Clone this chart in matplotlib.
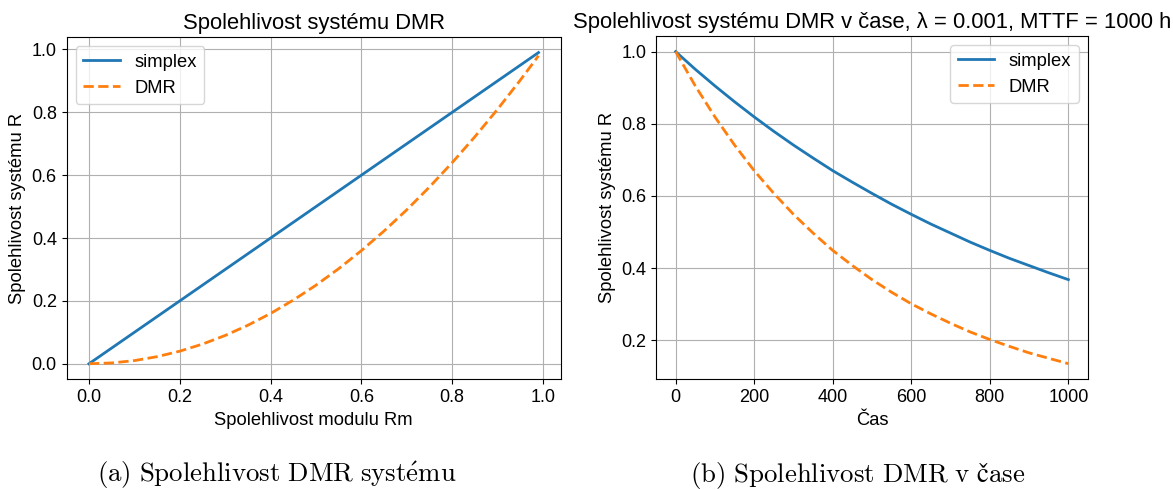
import matplotlib
matplotlib.use('Agg')
import matplotlib.pyplot as plt

# Levy graf: spolehlivost systemu v zavislosti na spolehlivosti modulu
rm = [0.0, 0.05, 0.1, 0.15, 0.2, 0.25, 0.3, 0.35, 0.4, 0.45, 0.5,
      0.55, 0.6, 0.65, 0.7, 0.75, 0.8, 0.85, 0.9, 0.95, 0.99]
r_simplex = [0.0, 0.05, 0.1, 0.15, 0.2, 0.25, 0.3, 0.35, 0.4, 0.45, 0.5,
             0.55, 0.6, 0.65, 0.7, 0.75, 0.8, 0.85, 0.9, 0.95, 0.99]
r_dmr = [0.0, 0.0025, 0.01, 0.0225, 0.04, 0.0625, 0.09, 0.1225, 0.16, 0.2025, 0.25,
         0.3025, 0.36, 0.4225, 0.49, 0.5625, 0.64, 0.7225, 0.81, 0.9025, 0.98]

# Pravy graf: spolehlivost v case
t = [0, 50, 100, 150, 200, 250, 300, 350, 400, 450, 500,
     550, 600, 650, 700, 750, 800, 850, 900, 950, 1000]
rt_simplex = [1.0, 0.951, 0.905, 0.861, 0.819, 0.779, 0.741, 0.705, 0.670, 0.638, 0.607,
              0.577, 0.549, 0.522, 0.497, 0.472, 0.449, 0.427, 0.407, 0.387, 0.368]
rt_dmr = [1.0, 0.905, 0.819, 0.741, 0.670, 0.607, 0.549, 0.497, 0.449, 0.407, 0.368,
          0.333, 0.301, 0.273, 0.247, 0.223, 0.202, 0.183, 0.165, 0.150, 0.135]

plt.rcParams['font.family'] = ['Liberation Sans', 'DejaVu Sans']
plt.rcParams['font.size'] = 13.2
plt.rcParams['xtick.labelsize'] = 13
plt.rcParams['ytick.labelsize'] = 13
plt.rcParams['mathtext.fontset'] = 'cm'

W, H = 1173, 490
fig = plt.figure(figsize=(W / 100, H / 100), dpi=100)
ax1 = fig.add_axes([66.5 / W, 1 - 379.3 / H, (561 - 66.5) / W, (379.3 - 37) / H])
ax2 = fig.add_axes([656 / W, 1 - 379.3 / H, (1088 - 656) / W, (379.3 - 36) / H])

ax1.plot(rm, r_simplex, '-', color='#1f77b4', lw=2, label='simplex')
ax1.plot(rm, r_dmr, '--', color='#ff7f0e', lw=2, label='DMR')
ax1.set_title('Spolehlivost systému DMR', fontsize=15.8)
ax1.set_xlabel('Spolehlivost modulu Rm')
ax1.set_ylabel('Spolehlivost systému R')
ax1.grid(True)
ax1.legend(loc='upper left')

ax2.plot(t, rt_simplex, '-', color='#1f77b4', lw=2, label='simplex')
ax2.plot(t, rt_dmr, '--', color='#ff7f0e', lw=2, label='DMR')
ax2.set_title('Spolehlivost systému DMR v čase, λ = 0.001, MTTF = 1000 h', fontsize=15.8)
ax2.set_xlabel('Čas')
ax2.set_ylabel('Spolehlivost systému R')
ax2.grid(True)
ax2.legend(loc='upper right')

fig.text(277 / W, 1 - 475 / H, r'$\mathrm{(a)\ Spolehlivost\ DMR\ syst\acute{e}mu}$',
         ha='center', va='center', fontsize=19.3)
fig.text(858 / W, 1 - 475 / H, r'$\mathrm{(b)\ Spolehlivost\ DMR\ v\ čase}$',
         ha='center', va='center', fontsize=19.3)

fig.savefig('out.png', dpi=100)
